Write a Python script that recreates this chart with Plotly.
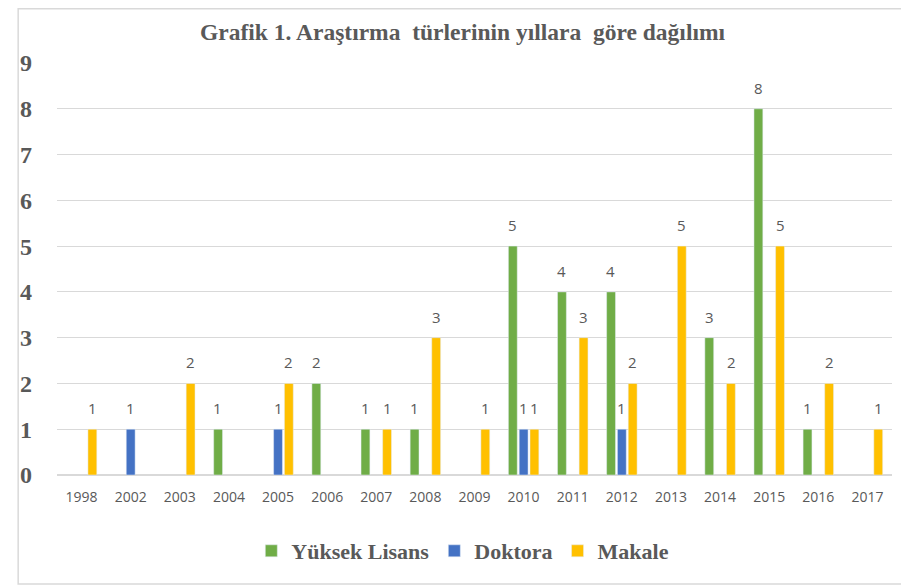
import plotly.graph_objects as go

years = ["1998", "2002", "2003", "2004", "2005", "2006", "2007", "2008", "2009",
         "2010", "2011", "2012", "2013", "2014", "2015", "2016", "2017"]
yuksek_lisans = [None, None, None, 1, None, 2, 1, 1, None, 5, 4, 4, None, 3, 8, 1, None]
doktora = [None, 1, None, None, 1, None, None, None, None, 1, None, 1, None, None, None, None, None]
makale = [1, None, 2, None, 2, None, 1, 3, 1, 1, 3, 2, 5, 2, 5, 2, 1]

series = [
    ("Yüksek Lisans", yuksek_lisans, "#70AD47"),
    ("Doktora", doktora, "#4472C4"),
    ("Makale", makale, "#FFC000"),
]

# page has an 8px body margin; figure is sized to fit the 909x587 window
W, H = 901, 579
ML, MR, MT, MB = 40, 17, 55, 112
BARGAP, GROUPGAP = 0.34, 0.18
plot_w = W - ML - MR
plot_h = H - MT - MB
slot = plot_w / len(years) * (1 - BARGAP) / len(series)

fig = go.Figure()
annotations = []
for i, (name, vals, color) in enumerate(series):
    fig.add_trace(go.Bar(x=years, y=vals, name=name, marker_color=color))
    for j, v in enumerate(vals):
        if v is None:
            continue
        annotations.append(dict(
            x=j, y=v, xref="x", yref="y", text=str(v), showarrow=False,
            xanchor="center", yanchor="bottom", yshift=9,
            xshift=(i - (len(series) - 1) / 2) * slot,
            font=dict(family="Open Sans, Liberation Sans, sans-serif", size=15, color="#595959"),
        ))

fig.update_layout(
    width=W, height=H,
    paper_bgcolor="white", plot_bgcolor="white",
    margin=dict(l=ML, r=MR, t=MT, b=MB),
    barmode="group", bargap=BARGAP, bargroupgap=GROUPGAP,
    title=dict(
        text="Grafik 1. Araştırma  türlerinin yıllara  göre dağılımı",
        x=0.5045, xanchor="center", y=1 - 24 / H, yanchor="middle",
        font=dict(family="Liberation Serif, Times New Roman, serif", size=23.5, color="#595959", weight="bold"),
    ),
    showlegend=True,
    legend=dict(
        orientation="h", x=0.486, xanchor="center", yref="container", y=1 - 543 / H, yanchor="middle",
        font=dict(family="Liberation Serif, Times New Roman, serif", size=22, color="#595959", weight="bold"),
        itemwidth=30, traceorder="normal",
    ),
    yaxis=dict(
        range=[0, 9], dtick=1, showgrid=True, gridcolor="#D9D9D9", gridwidth=1,
        zeroline=True, zerolinecolor="#D9D9D9", showline=False,
        tickfont=dict(family="Liberation Serif, Times New Roman, serif", size=24, color="#595959", weight="bold"),
        ticklabelstandoff=24,
    ),
    xaxis=dict(
        showline=False, showgrid=False, type="category",
        range=[-0.5, len(years) - 0.5],
        tickfont=dict(family="Open Sans, Liberation Sans, sans-serif", size=14, color="#595959"),
        ticklabelstandoff=12,
    ),
    annotations=annotations,
    shapes=[dict(
        type="rect", xref="paper", yref="paper",
        x0=(0.75 - ML) / plot_w, x1=(910 - ML) / plot_w,
        y0=(H - MB - 576) / plot_h, y1=(H - MB - 0.75) / plot_h,
        line=dict(color="#D9D9D9", width=1.5), fillcolor="rgba(0,0,0,0)", layer="below",
    )],
)

fig.write_html("out.html")
